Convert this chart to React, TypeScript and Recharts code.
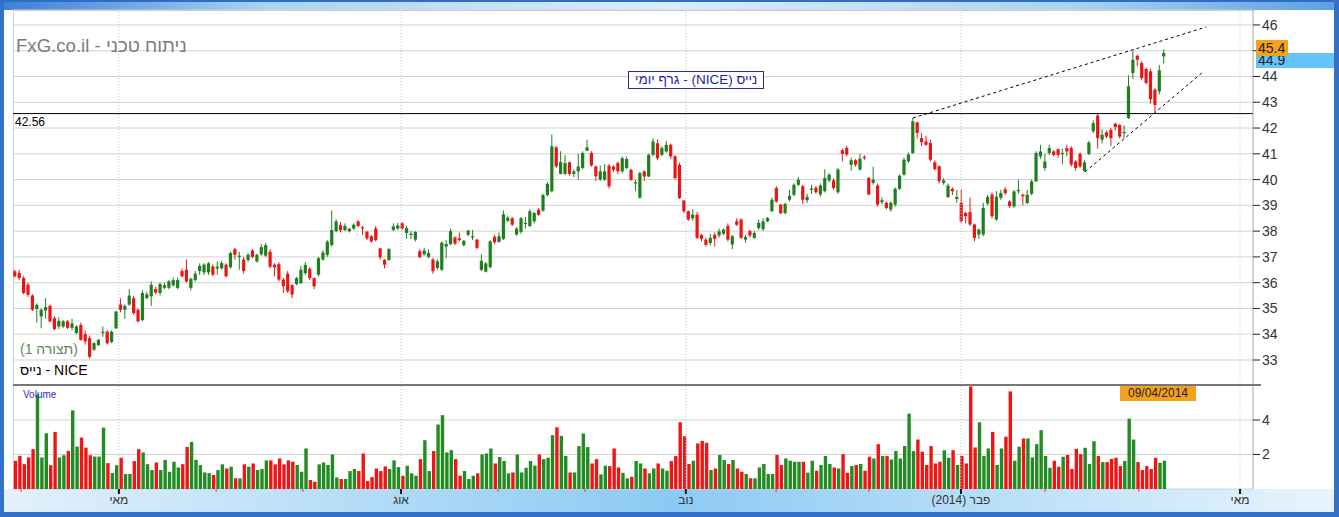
import React from "react";
import {
  ComposedChart,
  BarChart,
  Bar,
  XAxis,
  YAxis,
  CartesianGrid,
  ReferenceLine,
  Cell,
} from "recharts";

// daily NICE candles, roughly end of March 2013 -> 09/04/2014
const opens = [
  36.44, 36.38, 36.18, 35.92, 35.5, 34.98, 34.69, 34.92, 35.1, 34.62,
  34.3, 34.3, 34.5, 34.25, 34.05, 34.36, 34.0, 33.85, 33.4, 33.58,
  34.05, 34.1, 33.7, 34.23, 35.15, 34.95, 35.15, 35.4, 34.95, 34.55,
  35.4, 35.47, 35.75, 35.6, 35.8, 35.8, 35.9, 35.8, 36.45, 36.5,
  35.8, 36.1, 36.45, 36.4, 36.4, 36.63, 36.55, 36.56, 36.7, 36.6,
  37.3, 37.0, 36.9, 36.88, 37.25, 36.82, 37.1, 37.05, 37.2, 36.7,
  36.72, 36.12, 36.35, 35.9, 35.95, 35.98, 36.37, 36.54, 36.18, 36.31,
  36.9, 37.08, 37.46, 38.0, 38.23, 38.04, 38.0, 38.1, 38.38, 38.15,
  37.98, 37.8, 38.1, 37.33, 36.88, 36.88, 38.05, 38.1, 38.3, 37.93,
  37.85, 37.67, 37.22, 37.1, 37.0, 36.9, 36.57, 36.5, 37.4, 37.5,
  37.75, 37.72, 37.46, 37.86, 37.78, 37.67, 36.5, 36.43, 36.6, 37.78,
  37.58, 37.7, 38.4, 38.5, 37.87, 37.97, 38.28, 38.2, 38.38, 38.83,
  38.8, 39.4, 39.55, 41.25, 40.22, 40.22, 40.67, 40.22, 40.32, 40.45,
  41.12, 41.03, 40.51, 40.0, 40.0, 40.54, 40.51, 40.64, 40.32, 40.45,
  40.38, 39.85, 39.3, 40.32, 40.12, 40.96, 41.41, 40.96, 41.09, 41.35,
  40.9, 40.57, 39.19, 38.77, 38.5, 38.64, 37.85, 37.67, 37.54, 37.86,
  37.83, 37.9, 38.2, 37.48, 38.38, 38.45, 37.67, 38.0, 37.74, 38.12,
  38.08, 38.38, 38.77, 39.67, 39.03, 38.7, 39.22, 39.41, 39.8, 39.74,
  39.2, 39.6, 39.68, 39.42, 39.55, 39.97, 39.97, 39.51, 41.14, 41.23,
  40.58, 40.75, 40.39, 40.88, 40.06, 39.87, 39.77, 39.12, 39.1, 38.84,
  39.03, 39.64, 40.19, 40.71, 41.03, 42.22, 41.61, 41.48, 41.42, 40.67,
  40.52, 39.87, 39.32, 39.64, 39.25, 39.1, 38.71, 38.74, 38.26, 37.87,
  37.87, 39.07, 39.42, 38.45, 39.29, 39.62, 39.15, 38.96, 39.55, 39.41,
  39.09, 39.45, 39.93, 40.9, 40.45, 41.03, 41.09, 41.18, 41.0, 41.22,
  41.22, 40.7, 41.0, 40.34, 40.99, 41.87, 42.48, 41.55, 41.83, 41.93,
  42.17, 42.12, 41.8, 42.39, 44.13, 44.8, 44.52, 44.29, 44.2, 43.49,
  43.42, 44.78,
];

const highs = [
  36.5, 36.5, 36.25, 36.0, 35.55, 35.2, 35.0, 35.4, 35.15, 34.7,
  34.65, 34.55, 34.55, 34.6, 34.35, 34.45, 34.15, 33.95, 33.7, 33.82,
  34.3, 34.15, 34.15, 34.9, 35.4, 35.15, 35.75, 35.5, 35.0, 35.7,
  35.65, 36.05, 35.85, 36.0, 36.0, 36.1, 36.2, 36.2, 36.55, 36.9,
  36.2, 36.45, 36.75, 36.75, 36.8, 36.7, 36.82, 36.85, 36.75, 37.2,
  37.35, 37.2, 37.0, 37.15, 37.3, 37.12, 37.5, 37.55, 37.3, 36.75,
  36.8, 36.2, 36.45, 35.95, 36.22, 36.65, 36.8, 36.6, 36.2, 37.0,
  37.25, 37.65, 38.8, 38.45, 38.35, 38.3, 38.12, 38.3, 38.42, 38.2,
  38.0, 37.85, 38.2, 37.35, 36.92, 37.35, 38.3, 38.32, 38.35, 38.2,
  38.0, 38.0, 37.3, 37.35, 37.3, 36.95, 36.9, 37.6, 37.65, 38.1,
  37.8, 37.95, 37.65, 38.05, 38.05, 37.7, 37.1, 36.8, 37.65, 37.85,
  37.95, 38.8, 38.6, 38.55, 38.15, 38.55, 38.55, 38.85, 38.75, 38.9,
  39.45, 39.9, 41.75, 41.3, 41.1, 40.95, 40.7, 40.4, 41.0, 41.1,
  41.55, 41.1, 40.55, 40.55, 40.6, 40.6, 40.55, 40.7, 40.9, 40.9,
  40.42, 39.99, 40.3, 40.35, 41.0, 41.6, 41.55, 41.3, 41.5, 41.4,
  40.95, 40.65, 39.2, 38.8, 38.85, 38.75, 37.9, 37.75, 37.9, 37.95,
  38.1, 38.1, 38.3, 37.85, 38.5, 38.5, 37.85, 38.05, 38.0, 38.45,
  38.5, 38.55, 39.3, 39.75, 39.05, 39.1, 39.6, 39.85, 40.1, 39.8,
  39.45, 39.8, 39.75, 39.85, 40.4, 40.25, 40.05, 40.45, 41.2, 41.3,
  40.85, 40.8, 41.0, 40.95, 40.1, 40.5, 39.85, 39.3, 39.15, 39.15,
  39.7, 40.2, 40.85, 41.05, 42.4, 42.25, 41.8, 41.7, 41.55, 40.75,
  40.55, 40.05, 39.85, 39.7, 39.6, 39.6, 38.75, 39.3, 38.3, 38.1,
  39.1, 39.4, 39.5, 39.55, 39.6, 39.7, 39.2, 39.6, 40.0, 39.45,
  39.6, 40.0, 41.1, 41.35, 41.0, 41.35, 41.15, 41.2, 41.2, 41.35,
  41.3, 40.75, 41.05, 40.75, 41.5, 42.3, 42.55, 41.95, 41.9, 42.0,
  42.2, 42.15, 42.1, 44.05, 45.0, 44.85, 44.6, 44.35, 44.3, 43.55,
  44.45, 45.05,
];

const lows = [
  36.2, 36.1, 35.55, 35.45, 34.9, 34.45, 34.23, 34.6, 34.45, 34.15,
  34.2, 34.25, 34.2, 34.15, 34.0, 33.75, 33.6, 33.05, 33.35, 33.55,
  33.9, 33.6, 33.65, 34.2, 34.85, 34.6, 35.1, 34.75, 34.45, 34.5,
  35.35, 35.1, 35.55, 35.5, 35.75, 35.75, 35.85, 35.75, 36.2, 36.0,
  35.7, 36.05, 36.3, 36.3, 36.3, 36.25, 36.31, 36.5, 36.2, 36.55,
  36.9, 36.5, 36.35, 36.8, 36.95, 36.78, 37.05, 37.0, 36.55, 36.25,
  36.05, 35.6, 35.6, 35.4, 35.9, 35.95, 36.3, 36.1, 35.75, 36.25,
  36.85, 37.0, 37.4, 37.95, 37.95, 38.0, 37.95, 38.05, 38.15, 37.85,
  37.65, 37.55, 37.6, 36.9, 36.55, 36.85, 38.0, 38.05, 38.05, 37.7,
  37.7, 37.6, 36.95, 37.05, 36.95, 36.35, 36.5, 36.45, 36.95, 37.45,
  37.45, 37.6, 37.4, 37.8, 37.65, 37.3, 36.45, 36.4, 36.55, 37.5,
  37.55, 37.65, 38.35, 38.2, 37.82, 37.9, 38.1, 38.15, 38.3, 38.6,
  38.75, 39.35, 39.5, 40.45, 40.2, 40.18, 40.15, 40.1, 40.0, 40.4,
  41.1, 40.5, 39.95, 39.95, 39.95, 39.65, 40.3, 40.2, 40.25, 40.4,
  39.95, 39.55, 39.25, 39.95, 40.1, 40.9, 40.75, 40.9, 41.05, 40.8,
  40.0, 39.25, 38.7, 38.4, 38.4, 37.7, 37.6, 37.4, 37.45, 37.4,
  37.75, 37.85, 37.6, 37.3, 38.2, 37.7, 37.55, 37.75, 37.7, 38.05,
  38.0, 38.35, 38.75, 39.1, 38.65, 38.65, 39.15, 39.35, 39.75, 39.05,
  39.1, 39.45, 39.45, 39.35, 39.5, 39.9, 39.6, 39.45, 40.7, 40.9,
  40.35, 40.5, 40.35, 40.75, 39.4, 39.8, 38.95, 39.05, 38.85, 38.75,
  38.95, 39.6, 40.15, 40.65, 41.0, 41.6, 41.3, 41.3, 40.7, 40.35,
  39.85, 39.8, 39.3, 39.4, 39.1, 38.3, 38.3, 38.2, 37.6, 37.7,
  37.8, 39.0, 38.5, 38.4, 39.2, 39.4, 38.9, 38.9, 39.45, 39.0,
  39.05, 39.4, 39.9, 40.8, 40.35, 40.95, 40.9, 40.85, 40.6, 40.9,
  40.5, 40.35, 40.45, 40.3, 40.95, 41.8, 41.2, 41.4, 41.6, 41.3,
  41.9, 41.6, 41.6, 42.35, 43.9, 44.4, 43.85, 43.7, 42.95, 42.62,
  43.3, 44.5,
];

const closes = [
  36.25, 36.18, 35.6, 35.53, 34.95, 35.14, 34.95, 35.05, 34.5, 34.2,
  34.52, 34.5, 34.25, 34.42, 34.3, 33.78, 33.72, 33.13, 33.65, 33.78,
  34.1, 33.65, 34.1, 34.88, 34.95, 35.1, 35.5, 34.82, 34.5, 35.6,
  35.55, 35.92, 35.62, 35.95, 35.9, 36.05, 36.1, 36.1, 36.25, 36.05,
  36.15, 36.35, 36.65, 36.7, 36.75, 36.31, 36.62, 36.76, 36.25, 37.15,
  37.08, 37.05, 36.45, 37.08, 37.0, 37.08, 37.38, 37.46, 36.62, 36.6,
  36.12, 35.86, 35.67, 35.54, 36.18, 36.5, 36.69, 36.18, 35.86, 36.95,
  37.17, 37.59, 38.04, 38.38, 38.04, 38.2, 38.1, 38.25, 38.2, 38.12,
  37.72, 37.6, 37.65, 36.98, 36.7, 37.3, 38.18, 38.22, 38.1, 38.12,
  37.9, 37.97, 36.99, 37.25, 37.15, 36.45, 36.83, 37.55, 37.5, 38.0,
  37.52, 37.65, 37.63, 38.02, 37.8, 37.35, 36.85, 36.75, 37.6, 37.57,
  37.8, 38.65, 38.52, 38.25, 38.1, 38.5, 38.32, 38.77, 38.7, 38.63,
  39.4, 39.83, 41.29, 40.51, 40.68, 40.64, 40.22, 40.32, 40.51, 41.03,
  41.25, 40.55, 40.13, 40.32, 40.32, 39.74, 40.38, 40.32, 40.83, 40.8,
  39.99, 39.9, 40.25, 40.12, 40.96, 41.48, 40.83, 41.22, 41.35, 40.9,
  40.06, 39.28, 38.77, 38.45, 38.64, 37.74, 37.7, 37.47, 37.74, 37.7,
  37.99, 38.06, 37.67, 37.8, 38.25, 37.74, 37.77, 37.83, 37.93, 38.32,
  38.38, 38.51, 39.22, 39.15, 38.7, 39.06, 39.37, 39.8, 39.99, 39.22,
  39.33, 39.65, 39.51, 39.77, 40.06, 40.19, 39.68, 40.39, 41.0, 40.97,
  40.75, 40.58, 40.81, 40.84, 39.42, 40.0, 39.03, 39.2, 38.9, 39.1,
  39.64, 40.15, 40.77, 40.97, 42.26, 41.81, 41.45, 41.35, 40.77, 40.41,
  39.94, 39.97, 39.77, 39.55, 39.33, 38.39, 38.58, 38.26, 37.74, 38.06,
  38.9, 39.33, 38.58, 39.33, 39.48, 39.48, 38.97, 39.54, 39.6, 39.35,
  39.41, 39.93, 41.03, 41.09, 40.7, 41.22, 40.96, 40.96, 41.03, 41.09,
  40.58, 40.45, 40.51, 40.67, 41.44, 42.19, 41.61, 41.74, 41.67, 41.61,
  42.04, 41.67, 41.85, 43.62, 44.65, 44.65, 43.94, 43.75, 43.12, 42.9,
  44.24, 44.91,
];

// volume in millions
const volumes = [
  1.63, 1.92, 1.44, 1.83, 2.31, 5.48, 1.83, 3.23, 1.38, 3.31,
  1.83, 1.96, 2.21, 4.56, 2.46, 2.98, 2.4, 1.96, 1.88, 1.88,
  3.56, 1.5, 0.92, 1.38, 1.81, 0.87, 0.87, 1.62, 2.31, 2.12,
  1.44, 1.1, 1.54, 1.1, 1.69, 1.0, 1.58, 1.25, 1.44, 2.44,
  2.73, 1.69, 1.38, 0.96, 0.92, 0.81, 1.1, 1.43, 1.19, 1.29,
  0.62, 0.62, 1.43, 1.29, 1.48, 1.1, 1.16, 1.66, 1.66, 1.43,
  1.77, 1.43, 1.66, 1.58, 1.39, 1.0, 2.35, 0.52, 0.42, 1.43,
  1.54, 1.39, 2.0, 0.67, 0.58, 0.58, 1.04, 1.16, 1.04, 2.06,
  0.46, 0.69, 1.19, 1.04, 1.31, 1.16, 1.66, 1.27, 0.77, 1.35,
  0.91, 0.77, 1.73, 2.83, 1.04, 2.2, 3.74, 4.28, 2.12, 2.25,
  1.73, 0.77, 1.04, 0.58, 0.77, 0.91, 2.0, 2.06, 2.35, 1.48,
  1.85, 1.62, 0.91, 0.96, 2.0, 0.96, 1.23, 1.62, 1.35, 2.0,
  1.73, 1.81, 3.12, 3.58, 3.08, 1.91, 0.96, 0.96, 2.49, 3.22,
  2.43, 1.48, 1.73, 0.85, 1.35, 1.33, 2.35, 1.25, 0.94, 0.62,
  0.71, 1.62, 1.48, 1.19, 0.91, 1.19, 1.48, 1.19, 1.06, 1.62,
  1.91, 3.87, 3.06, 1.45, 1.64, 2.64, 2.79, 2.68, 1.1, 1.19,
  1.97, 1.68, 1.45, 1.68, 1.19, 1.0, 0.87, 0.62, 0.62, 1.25,
  1.45, 0.87, 0.87, 1.97, 1.39, 1.77, 1.64, 1.58, 1.58, 1.58,
  0.95, 1.64, 1.06, 1.39, 1.91, 1.45, 1.25, 1.19, 2.02, 0.94,
  1.33, 1.39, 1.45, 1.06, 1.87, 1.77, 2.6, 1.91, 1.91, 1.71,
  2.2, 1.77, 2.49, 4.37, 2.2, 2.87, 2.16, 1.39, 2.49, 1.48,
  1.58, 2.25, 1.81, 2.25, 1.39, 1.91, 1.48, 5.95, 2.41, 3.87,
  1.91, 2.35, 3.31, 1.39, 2.35, 3.03, 5.66, 1.64, 2.45, 2.93,
  2.93, 1.83, 2.6, 3.41, 1.91, 1.23, 1.64, 1.29, 1.87, 1.97,
  1.16, 2.33, 2.02, 2.39, 1.45, 2.77, 1.91, 1.56, 1.56, 1.75,
  1.81, 1.33, 1.62, 4.08, 2.87, 1.56, 1.1, 1.33, 1.16, 1.81,
  1.52, 1.64,
];

// month starts, in candle index units
const monthTicks = [1.36, 23.6, 45.7, 65.4, 87.7, 109.7, 129.5, 152.4, 172.9, 194.0, 214.9, 234.0, 255.3, 278.3];
const monthLabels = ["", "מאי", "", "", "אוג", "", "", "נוב", "", "", "(2014) פבר", "", "", "מאי"];

const priceTicks = [33, 34, 35, 36, 37, 38, 39, 40, 41, 42, 43, 44, 45, 46];
const volumeTicks = [2, 4];
const resistance = 42.56;
const upperTrend = [{ x: 204, y: 42.39 }, { x: 270.6, y: 45.92 }];
const lowerTrend = [{ x: 243.1, y: 40.3 }, { x: 269.9, y: 44.18 }];

const GREEN = "#1f7f1f";
const RED = "#ea1414";
const X_DOMAIN: [number, number] = [-0.45, 281.24];
const FONT = "Arial, 'Liberation Sans', sans-serif";

const candles = closes.map((c, i) => ({
  i,
  open: opens[i],
  high: highs[i],
  low: lows[i],
  close: c,
  range: [lows[i], highs[i]],
  volume: volumes[i],
}));

const majorTicks = monthTicks.filter((_, k) => monthLabels[k] !== "");

const Candle = (props: any) => {
  const { x, y, width, height, payload } = props;
  if (x == null || y == null) return null;
  const top = Math.min(y, y + height);
  const h = Math.abs(height);
  const { open, close, high, low } = payload;
  const color = close >= open ? GREEN : RED;
  const k = h / (high - low || 1);
  const cx = x + width / 2;
  const yO = top + (high - open) * k;
  const yC = top + (high - close) * k;
  const bTop = Math.min(yO, yC);
  const bH = Math.max(Math.abs(yO - yC), 1.2);
  return (
    <g>
      <line x1={cx} x2={cx} y1={top} y2={top + h} stroke={color} strokeWidth={1} />
      <rect x={cx - 1.6} y={bTop} width={3.2} height={bH} fill={color} />
    </g>
  );
};

const MonthTick = (props: any) => {
  const { x, y, payload } = props;
  const idx = monthTicks.indexOf(payload.value);
  const label = monthLabels[idx];
  if (!label) {
    return <line x1={x} x2={x} y1={y} y2={y + 3} stroke="#e04040" strokeWidth={1} />;
  }
  return (
    <g>
      <line x1={x} x2={x} y1={y} y2={y + 5} stroke="#111" strokeWidth={2} />
      <text x={x} y={y + 15} textAnchor="middle" fontSize={12} fill="#333" fontFamily={FONT}>
        {label}
      </text>
    </g>
  );
};

const abs = (o: React.CSSProperties): React.CSSProperties => ({ position: "absolute", ...o });

export default function App() {
  return (
    <div style={{ position: "relative", width: 1339, height: 517, background: "#fff", fontFamily: FONT, overflow: "hidden" }}>
      <style>{`body{margin:0}`}</style>

      {/* frame */}
      <div style={abs({ left: 0, top: 0, width: 1339, height: 10, background: "linear-gradient(to right, #3b7fd6, #a9d4f5 20%, #d9edfb 50%, #a9d4f5 80%, #5d9fe2)" })} />
      <div style={abs({ left: 0, top: 0, width: 1339, height: 2, background: "#2f6cc4" })} />
      <div style={abs({ left: 4, top: 489, width: 1330, height: 23, background: "linear-gradient(to right, #e3f1fc, #8ccaf3 50%, #e8f4fd 100%)" })} />
      <div style={abs({ left: 0, top: 0, width: 4, height: 517, background: "#3371c8" })} />
      <div style={abs({ left: 1334, top: 0, width: 5, height: 517, background: "#3371c8" })} />
      <div style={abs({ left: 0, top: 512, width: 1339, height: 5, background: "#3371c8" })} />
      <div style={abs({ left: 13, top: 10, width: 1240, height: 1, background: "#c4c4c4" })} />
      <div style={abs({ left: 13, top: 10, width: 1, height: 479, background: "#d0d0d0" })} />

      {/* price pane */}
      <div style={abs({ left: 0, top: 0 })}>
        <ComposedChart width={1339} height={385} data={candles} margin={{ top: 10, right: 26, bottom: 0, left: 13 }}>
          <CartesianGrid stroke="#d2d2d2" vertical={false} />
          <XAxis dataKey="i" type="number" domain={X_DOMAIN} hide allowDataOverflow />
          <YAxis
            orientation="right"
            domain={[32.03, 46.58]}
            ticks={priceTicks}
            width={60}
            allowDataOverflow
            tickSize={7}
            tickMargin={2}
            axisLine={{ stroke: "#a8a8a8" }}
            tickLine={{ stroke: "#222" }}
            tick={{ fill: "#333", fontSize: 14, fontFamily: FONT }}
          />
          {majorTicks.map((t) => (
            <ReferenceLine key={t} x={t} stroke="#c6c6c6" strokeDasharray="1 2" />
          ))}
          <ReferenceLine y={resistance} stroke="#000" strokeWidth={1} />
          <Bar dataKey="range" barSize={4} shape={<Candle />} isAnimationActive={false} />
          <ReferenceLine segment={upperTrend} stroke="#000" strokeDasharray="3 3" ifOverflow="visible" />
          <ReferenceLine segment={lowerTrend} stroke="#000" strokeDasharray="3 3" ifOverflow="visible" />
        </ComposedChart>
      </div>

      {/* volume pane */}
      <div style={abs({ left: 0, top: 385 })}>
        <BarChart width={1339} height={127} data={candles} margin={{ top: 0, right: 26, bottom: 0, left: 13 }}>
          <CartesianGrid stroke="#d2d2d2" vertical={false} />
          <XAxis
            dataKey="i"
            type="number"
            domain={X_DOMAIN}
            ticks={monthTicks}
            interval={0}
            allowDataOverflow
            height={23}
            tickSize={0}
            tickMargin={0}
            axisLine={false}
            tick={<MonthTick />}
          />
          <YAxis
            orientation="right"
            domain={[0, 6.03]}
            ticks={volumeTicks}
            width={60}
            allowDataOverflow
            tickSize={7}
            tickMargin={2}
            axisLine={{ stroke: "#a8a8a8" }}
            tickLine={{ stroke: "#222" }}
            tick={{ fill: "#333", fontSize: 14, fontFamily: FONT }}
          />
          {majorTicks.map((t) => (
            <ReferenceLine key={t} x={t} stroke="#c6c6c6" strokeDasharray="1 2" />
          ))}
          <Bar dataKey="volume" barSize={3.4} isAnimationActive={false}>
            {candles.map((d) => (
              <Cell key={d.i} fill={d.close >= d.open ? "#228b22" : "#f01515"} />
            ))}
          </Bar>
        </BarChart>
      </div>

      {/* pane separator */}
      <div style={abs({ left: 13, top: 384, width: 1248, height: 2, background: "#777" })} />

      {/* texts */}
      <div dir="rtl" style={abs({ left: 16, top: 37, fontSize: 18.6, lineHeight: "18px", color: "#7b7b7b", whiteSpace: "nowrap" })}>
        ניתוח טכני - FxG.co.il
      </div>
      <div dir="rtl" style={abs({ left: 628, top: 71, height: 16, padding: "0 6px", border: "1px solid #2b2ba0", background: "#fff", color: "#1f1f9a", fontSize: 13.5, lineHeight: "16px", whiteSpace: "nowrap" })}>
        נייס (NICE) - גרף יומי
      </div>
      <div style={abs({ left: 15, top: 116, fontSize: 12, lineHeight: "12px", color: "#000" })}>{resistance.toFixed(2)}</div>
      <div dir="rtl" style={abs({ left: 20, top: 342, fontSize: 14, lineHeight: "14px", color: "#5b8a5b", whiteSpace: "nowrap" })}>
        (תצורה 1)
      </div>
      <div dir="rtl" style={abs({ left: 20, top: 363, fontSize: 14, lineHeight: "14px", color: "#000", whiteSpace: "nowrap" })}>
        NICE - נייס
      </div>
      <div style={abs({ left: 23, top: 390, fontSize: 10, lineHeight: "10px", color: "#2a35b5" })}>Volume</div>

      {/* badges */}
      <div style={abs({ left: 1120, top: 386, width: 76, height: 15, background: "#f4a21c", color: "#222", fontSize: 12, lineHeight: "15px", textAlign: "center" })}>
        09/04/2014
      </div>
      <div style={abs({ left: 1256, top: 53, width: 78, height: 15, background: "#66c4f6", color: "#222", fontSize: 14, lineHeight: "15px", paddingLeft: 2, boxSizing: "border-box" })}>
        {closes[closes.length - 1].toFixed(1)}
      </div>
      <div style={abs({ left: 1256, top: 40, width: 32, height: 16, background: "#f6a21b", color: "#222", fontSize: 14, lineHeight: "16px", paddingLeft: 2, boxSizing: "border-box" })}>
        45.4
      </div>
    </div>
  );
}
